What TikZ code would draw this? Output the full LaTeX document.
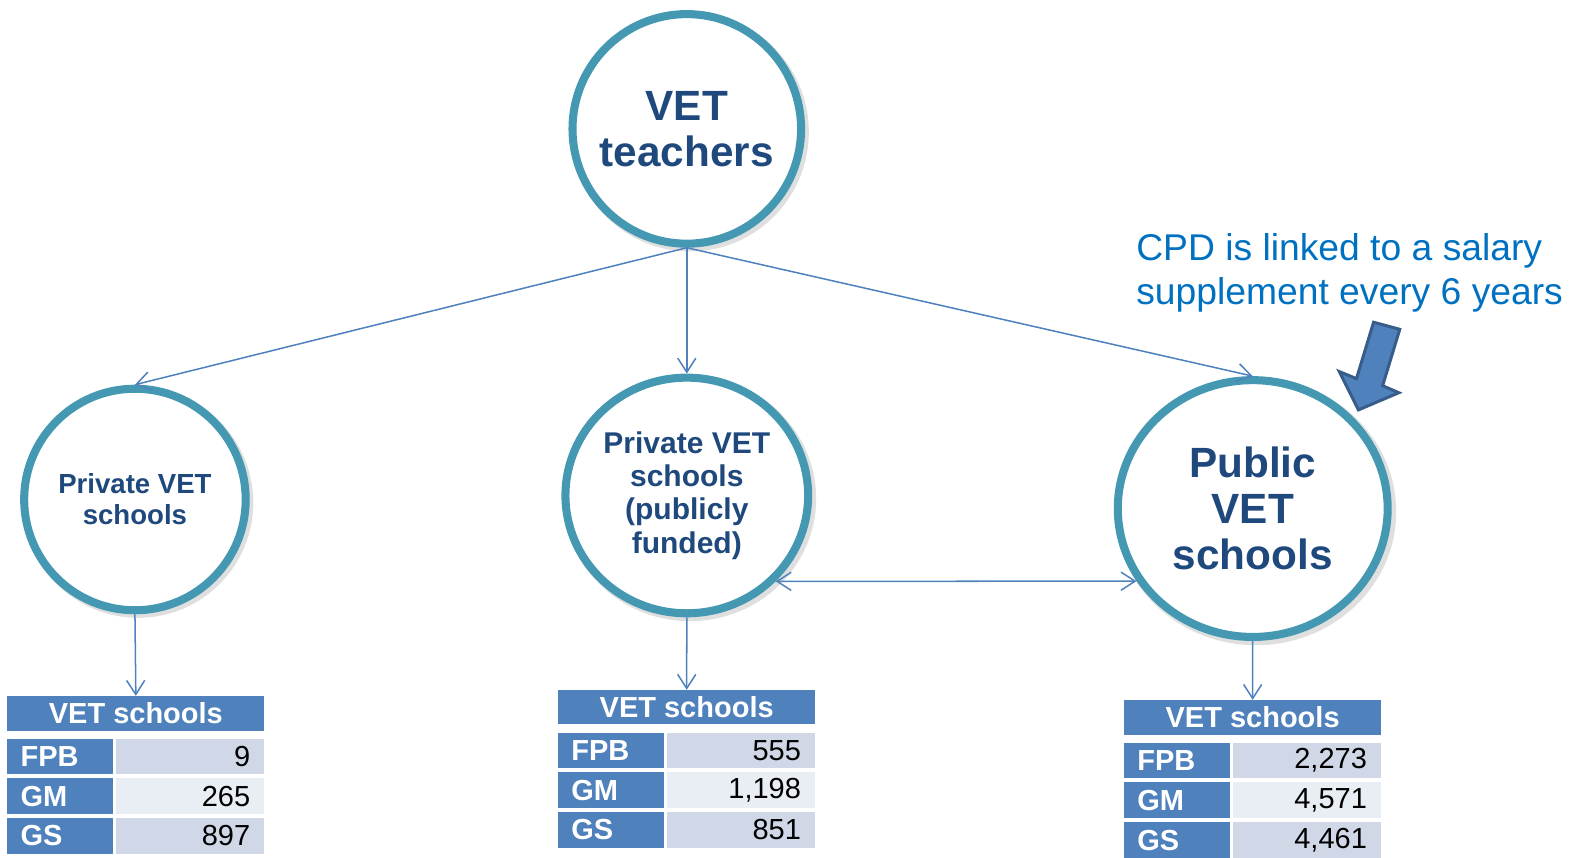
\documentclass[tikz,border=0pt]{standalone}
\usepackage{fontspec}
\setmainfont{Liberation Sans}
\usetikzlibrary{arrows.meta,shapes.geometric,shadows}

\definecolor{ringteal}{RGB}{68,152,178}
\definecolor{navytext}{RGB}{31,73,125}
\definecolor{linkblue}{RGB}{79,129,189}
\definecolor{arrowedge}{RGB}{56,93,138}
\definecolor{valdark}{RGB}{208,216,232}
\definecolor{vallight}{RGB}{233,237,244}
\definecolor{cpdblue}{RGB}{0,112,192}

\tikzset{
  ring/.style={ellipse, draw=ringteal, line width=4pt, fill=white, inner sep=-10pt,
    text=navytext, align=center,
    drop shadow={shadow scale=1.04, shadow xshift=1.5pt, shadow yshift=-1.5pt, opacity=.25, fill=gray}},
  link/.style={draw=linkblue, line width=.75pt, ->},
  hdrcell/.style={anchor=north west, fill=linkblue, text=white, inner sep=0pt,
    minimum width=127.5pt, minimum height=17pt, font=\bfseries\fontsize{14.4}{16}\selectfont},
  labcell/.style={anchor=north west, fill=linkblue, text=white, inner xsep=6.5pt, inner ysep=0pt,
    text width=39.5pt, align=left, minimum height=17.75pt, font=\bfseries\fontsize{14.4}{16}\selectfont},
  valcell/.style={anchor=north west, inner xsep=7pt, inner ysep=0pt,
    text width=59.5pt, align=right, minimum height=17.75pt, font=\fontsize{14.4}{16}\selectfont},
  cpdnote/.style={anchor=north west, align=left, inner sep=0pt, text=cpdblue,
    font=\fontsize{18.5}{22}\selectfont}
}

\begin{document}
\begin{tikzpicture}[x=0.5pt,y=-0.5pt,>={Straight Barb[length=7pt,width=9pt]}]
\useasboundingbox (0,0) rectangle (1568,852);

% circles
\node[ring, minimum width=113.5pt, minimum height=114pt, font=\bfseries\fontsize{21}{23}\selectfont] (vet) at (682,128) {VET\\teachers};
\node[ring, minimum size=110pt, font=\bfseries\fontsize{13.7}{15.5}\selectfont] (priv) at (134,496) {Private VET\\schools};
\node[ring, minimum width=120.5pt, minimum height=117pt, font=\bfseries\fontsize{14.9}{16.5}\selectfont] (pubf) at (682,492) {Private VET\\schools\\(publicly\\funded)};
\node[ring, minimum width=134pt, minimum height=127.5pt, font=\bfseries\fontsize{21}{23}\selectfont] (pub) at (1244,505) {Public\\VET\\schools};

% tables
\foreach \tx/\ty/\a/\b/\c/\n in {7/691/9/265/897/priv, 554/685/555/{1,198}/851/pubf, 1116/695/{2,273}/{4,571}/{4,461}/pub}
{
    \node[hdrcell] (\n-hd) at (\tx,\ty) {VET schools};
    \foreach \lab/\cellv/\shade [count=\i] in {FPB/\a/valdark, GM/\b/vallight, GS/\c/valdark}
    {
        \node[labcell] (\n-l\i) at (\tx,\ty+2.5+39.5*\i) {\lab};
        \node[valcell, fill=\shade] (\n-v\i) at (\tx+108,\ty+2.5+39.5*\i) {\cellv};
    }
}

% connectors
\draw[link] (vet.south) -- (priv.north);
\draw[link] (vet.south) -- (pubf.north);
\draw[link] (vet.south) -- (pub.north);
\draw[link,<->] (pubf.-44) -- (pub.212);
\draw[link] (priv.south) -- (priv-hd.north);
\draw[link] (pubf.south) -- (pubf-hd.north);
\draw[link] (pub.south) -- (pub-hd.north);

% note
\node[cpdnote] (cpd) at (1128,231) {CPD is linked to a salary\\supplement every 6 years};
\draw[fill=linkblue, draw=arrowedge, line width=1.5pt, line join=miter]
  (1364,320) -- (1390,327) -- (1373,383) -- (1389,390) -- (1349,407) -- (1330,369) -- (1347,376) -- cycle;
\end{tikzpicture}
\end{document}
